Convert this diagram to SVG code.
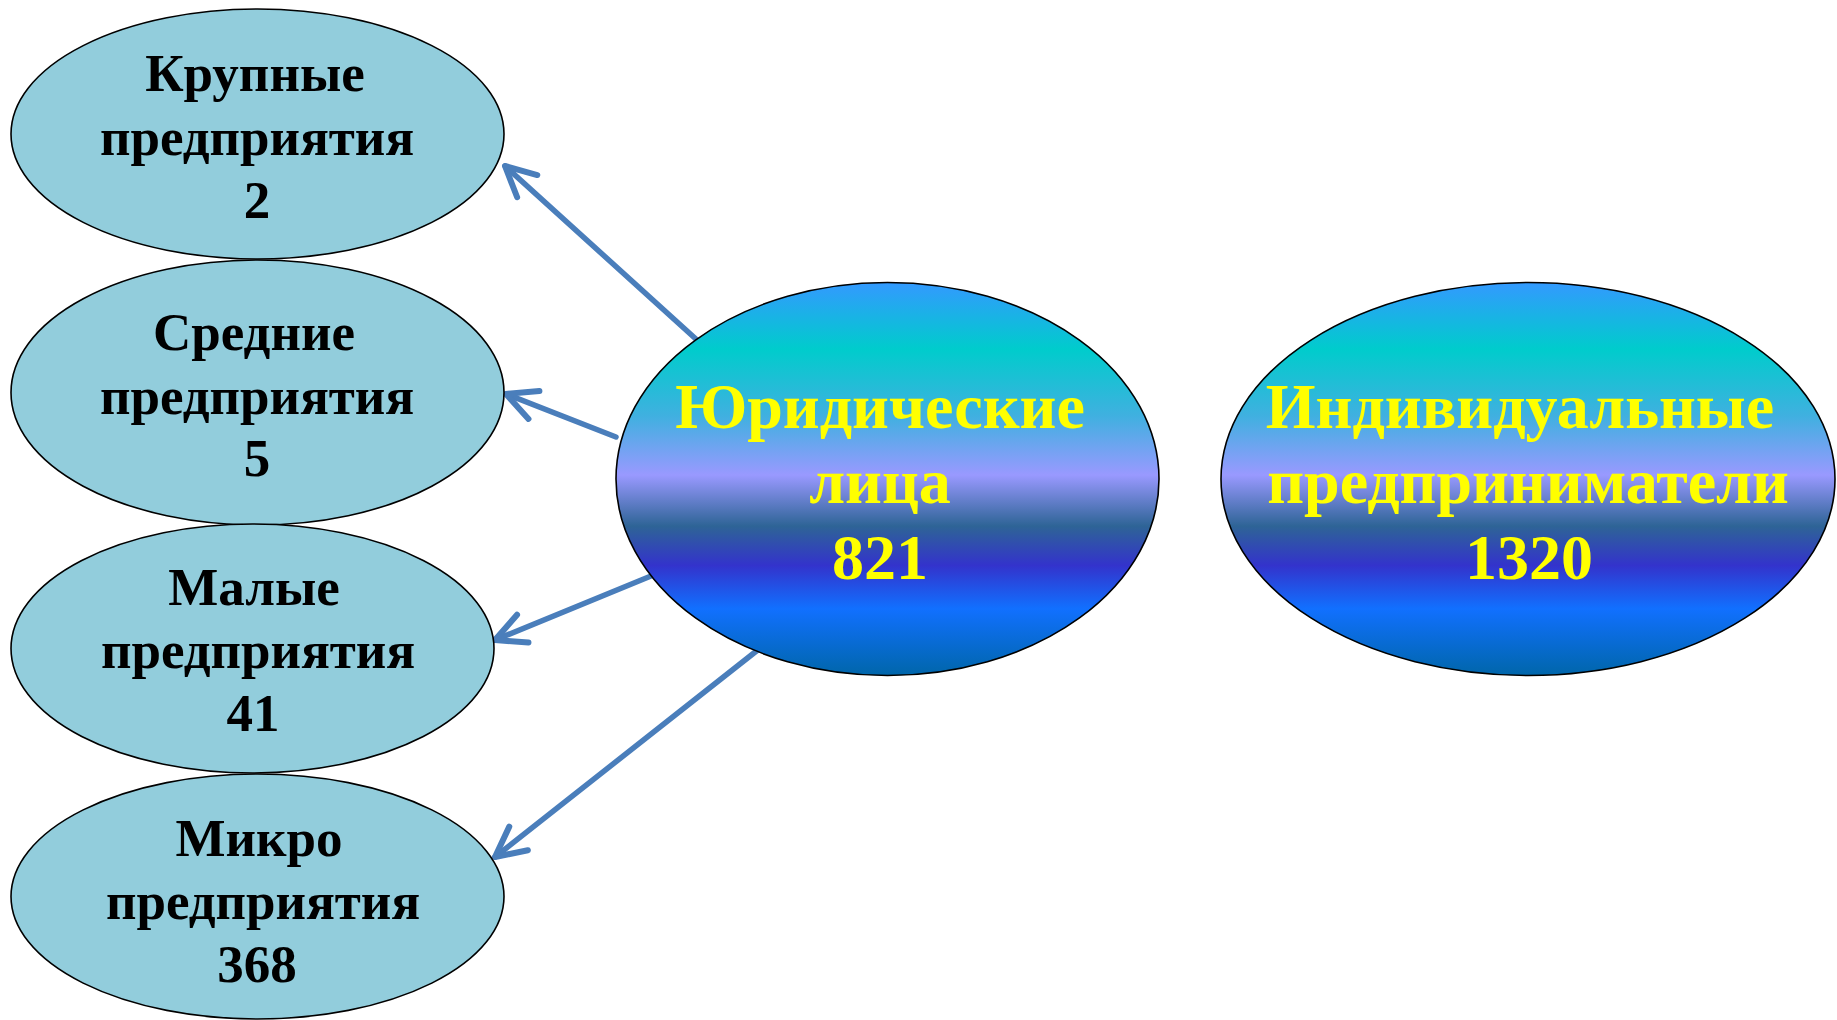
<svg xmlns="http://www.w3.org/2000/svg" width="1837" height="1020" viewBox="0 0 1837 1020">
  <defs>
    <linearGradient id="ocean" x1="0" y1="0" x2="0" y2="1">
      <stop offset="0" stop-color="#3399FF"/>
      <stop offset="0.17" stop-color="#00CCCC"/>
      <stop offset="0.34" stop-color="#40B0E0"/>
      <stop offset="0.49" stop-color="#9999FF"/>
      <stop offset="0.62" stop-color="#2E6496"/>
      <stop offset="0.72" stop-color="#3333CC"/>
      <stop offset="0.83" stop-color="#1170FF"/>
      <stop offset="1" stop-color="#0066AA"/>
    </linearGradient>
    <marker id="open" markerUnits="userSpaceOnUse" markerWidth="60" markerHeight="60" viewBox="-40 -30 60 60" refX="0" refY="0" orient="auto" overflow="visible">
      <path d="M -30 -15 L 0 0 L -30 15" fill="none" stroke="#4A7EBB" stroke-width="6" stroke-linecap="round" stroke-linejoin="round"/>
    </marker>
  </defs>
  <style>
    .small { fill: #92CDDC; stroke: #000; stroke-width: 1.6; }
    .big { fill: url(#ocean); stroke: #000; stroke-width: 1.6; }
    .lbl { font-family: "Liberation Serif", "Times New Roman", serif; font-weight: bold; font-size: 53px; fill: #000; text-anchor: middle; }
    .ylbl { font-family: "Liberation Serif", "Times New Roman", serif; font-weight: bold; font-size: 64px; fill: #FFFF00; text-anchor: middle; }
    .conn { stroke: #4A7EBB; stroke-width: 5.5; fill: none; stroke-linecap: round; marker-end: url(#open); }
  </style>
  <rect width="1837" height="1020" fill="#FFFFFF"/>

  <g id="connectors">
    <line class="conn" x1="697" y1="340" x2="505" y2="166"/>
    <line class="conn" x1="616" y1="437" x2="506" y2="394"/>
    <line class="conn" x1="651" y1="576" x2="495" y2="640"/>
    <line class="conn" x1="759" y1="649" x2="495" y2="857"/>
  </g>

  <g id="node-large">
    <ellipse class="small" cx="257.5" cy="134" rx="246.5" ry="125"/>
    <text class="lbl" x="255" y="91">Крупные</text>
    <text class="lbl" x="257" y="155">предприятия</text>
    <text class="lbl" x="257" y="218">2</text>
  </g>

  <g id="node-medium">
    <ellipse class="small" cx="257.5" cy="392.5" rx="246.5" ry="132.5"/>
    <text class="lbl" x="254" y="350">Средние</text>
    <text class="lbl" x="257" y="414">предприятия</text>
    <text class="lbl" x="257" y="476">5</text>
  </g>

  <g id="node-small">
    <ellipse class="small" cx="252.5" cy="648.5" rx="241.5" ry="124.5"/>
    <text class="lbl" x="254" y="605">Малые</text>
    <text class="lbl" x="258" y="668">предприятия</text>
    <text class="lbl" x="253" y="731">41</text>
  </g>

  <g id="node-micro">
    <ellipse class="small" cx="257.5" cy="896.5" rx="246.5" ry="122.5"/>
    <text class="lbl" x="259" y="856">Микро</text>
    <text class="lbl" x="263" y="919">предприятия</text>
    <text class="lbl" x="257" y="982">368</text>
  </g>

  <g id="node-legal">
    <ellipse class="big" cx="887.5" cy="479" rx="271.5" ry="196.5"/>
    <text class="ylbl" x="880" y="428">Юридические</text>
    <text class="ylbl" x="880" y="503">лица</text>
    <text class="ylbl" x="880" y="579">821</text>
  </g>

  <g id="node-individual">
    <ellipse class="big" cx="1528" cy="479" rx="307" ry="196.5"/>
    <text class="ylbl" x="1520" y="428">Индивидуальные</text>
    <text class="ylbl" x="1528" y="503">предприниматели</text>
    <text class="ylbl" x="1529" y="579">1320</text>
  </g>
</svg>
